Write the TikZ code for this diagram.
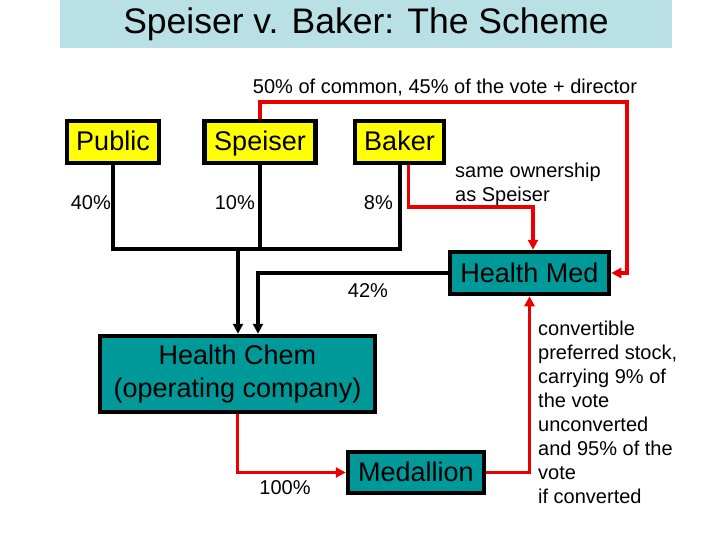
\documentclass[tikz,border=0pt]{standalone}
\usepackage{fontspec}
\setmainfont{Liberation Sans}
\usetikzlibrary{arrows.meta}
\definecolor{slidesky}{RGB}{185,224,228}
\definecolor{slideteal}{RGB}{0,153,153}
\definecolor{slideyellow}{RGB}{255,255,0}
\definecolor{slidered}{RGB}{235,0,0}

\begin{document}
\begin{tikzpicture}[x=1pt, y=-1pt,
    >={Triangle[length=10pt, width=10pt]},
    holder/.style={draw, line width=4.5pt, fill=slideyellow, minimum height=42pt, inner sep=0pt, text height=21pt, text depth=3pt, font=\fontsize{27}{30}\selectfont},
    firm/.style={draw, line width=4.5pt, fill=slideteal, inner sep=0pt, align=center, font=\fontsize{27}{33}\selectfont},
    note/.style={inner sep=0pt, align=left, font=\fontsize{20}{24}\selectfont},
    own/.style={line width=4pt},
    ctrl/.style={line width=3.5pt, color=slidered}
  ]
    \useasboundingbox (0,0) rectangle (720,540);
    \node[fill=slidesky, minimum width=612pt, minimum height=48pt, font=\fontsize{35.5}{40}\selectfont] (title) at (366,24) {Speiser v. Baker: The Scheme};

    \node[holder, minimum width=92pt] (public) at (113,142) {Public};
    \node[holder, minimum width=111pt] (speiser) at (260,142) {Speiser};
    \node[holder, minimum width=89pt] (baker) at (399.5,142) {Baker};
    \node[firm, minimum width=159pt, minimum height=42pt, text height=21pt, text depth=3pt] (healthmed) at (529.5,273) {Health Med};
    \node[firm, minimum width=275pt, minimum height=76pt] (healthchem) at (237.5,374) {Health Chem\\(operating company)};
    \node[firm, minimum width=136pt, minimum height=41pt, text height=21pt, text depth=3pt] (medallion) at (416,472.5) {Medallion};

    \coordinate (jn) at (238,249);
    \coordinate (feed) at (258,273);
    \coordinate (topright) at (627,102);
    \coordinate (sameown) at (533,207);

    % ownership of Health Chem
    \draw[own] (public.south) -- (public.south |- jn) -- (baker.south |- jn) -- (baker.south);
    \draw[own] (speiser.south) -- (speiser.south |- jn);
    \draw[own, ->] (jn) -- (jn |- healthchem.north);
    \draw[own, ->] (healthmed.west) -- (feed) -- (feed |- healthchem.north);

    % control links
    \draw[ctrl, ->] (speiser.north) |- (topright) |- (healthmed.east);
    \draw[ctrl, ->] ([xshift=9pt]baker.south) |- (sameown) -- (sameown |- healthmed.north);
    \draw[ctrl, ->] (healthchem.south) |- (medallion.west);
    \draw[ctrl, ->] (medallion.east) -| (healthmed.south);

    \node[note] (deal) at (445,88) {50\% of common, 45\% of the vote + director};
    \node[note, anchor=east] (pubpct) at (111,203) {40\%};
    \node[note, anchor=east] (speipct) at (255,203) {10\%};
    \node[note, anchor=east] (bakpct) at (393,203) {8\%};
    \node[note] (medpct) at (368,291) {42\%};
    \node[note, anchor=west] (same) at (455,184) {same ownership\\as Speiser};
    \node[note] (subpct) at (285,488) {100\%};
    \node[note, anchor=west] (pref) at (538,412) {convertible\\preferred stock,\\carrying 9\% of\\the vote\\unconverted\\and 95\% of the\\vote\\if converted};
\end{tikzpicture}
\end{document}
